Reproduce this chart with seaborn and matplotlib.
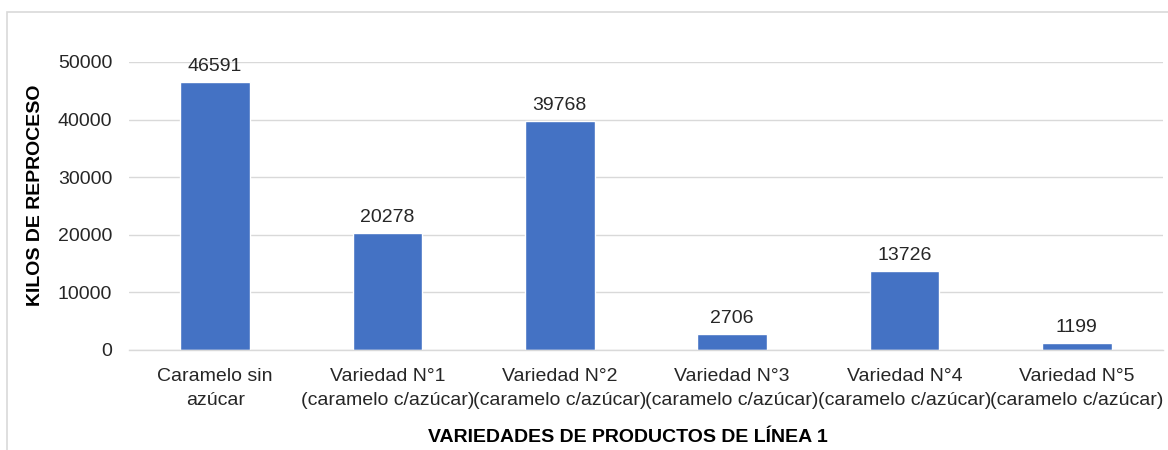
import matplotlib
matplotlib.use("Agg")
import matplotlib.pyplot as plt
import seaborn as sns
import pandas as pd
from matplotlib.patches import Rectangle

categorias = ["Caramelo sin\nazúcar",
              "Variedad N°1\n(caramelo c/azúcar)",
              "Variedad N°2\n(caramelo c/azúcar)",
              "Variedad N°3\n(caramelo c/azúcar)",
              "Variedad N°4\n(caramelo c/azúcar)",
              "Variedad N°5\n(caramelo c/azúcar)"]
kilos = [46591, 20278, 39768, 2706, 13726, 1199]
yticks = [0, 10000, 20000, 30000, 40000, 50000]

df = pd.DataFrame({"categoria": categorias, "kilos": kilos})

sns.set_style("white")
plt.rcParams["font.family"] = ["Liberation Sans", "DejaVu Sans"]

fs = 14
fig = plt.figure(figsize=(11.68, 4.5), dpi=100)
ax = fig.add_axes([129 / 1168, 100 / 450, (1163 - 129) / 1168, 288 / 450])

sns.barplot(data=df, x="categoria", y="kilos", color="#4472C4", width=0.406,
            saturation=1, ax=ax)

for c in ax.containers:
    ax.bar_label(c, labels=[str(v) for v in kilos], padding=5, fontsize=fs, color="#262626")

ax.set_ylim(0, 50000)
ax.set_xlim(-0.5, len(kilos) - 0.5)
ax.set_yticks(yticks)
ax.set_yticklabels([str(t) for t in yticks], fontsize=fs, color="#262626")
ax.set_xticks(range(len(categorias)))
ax.set_xticklabels(categorias, fontsize=fs, color="#262626", linespacing=1.55)
ax.tick_params(axis="x", length=0, pad=13)
ax.tick_params(axis="y", length=0, pad=12)
ax.yaxis.grid(True, color="#d9d9d9", linewidth=1)
ax.set_axisbelow(True)
for s in ["top", "right", "left"]:
    ax.spines[s].set_visible(False)
ax.spines["bottom"].set_color("#d9d9d9")
ax.spines["bottom"].set_linewidth(1)

ax.set_ylabel("KILOS DE REPROCESO", fontsize=fs, fontweight="bold", color="black")
ax.set_xlabel("VARIEDADES DE PRODUCTOS DE LÍNEA 1", fontsize=fs, fontweight="bold",
              color="black")
ax.yaxis.set_label_coords(-0.082, 0.538)
ax.xaxis.set_label_coords(0.482, -0.276)

# chart area border like the original (cut at the bottom and right)
fig.patches.append(Rectangle((7 / 1168, -0.1), 1.1, 1 - 12 / 450 + 0.1,
                             transform=fig.transFigure, fill=False,
                             edgecolor="#d9d9d9", linewidth=1.2))

fig.savefig("out.png", dpi=100)
